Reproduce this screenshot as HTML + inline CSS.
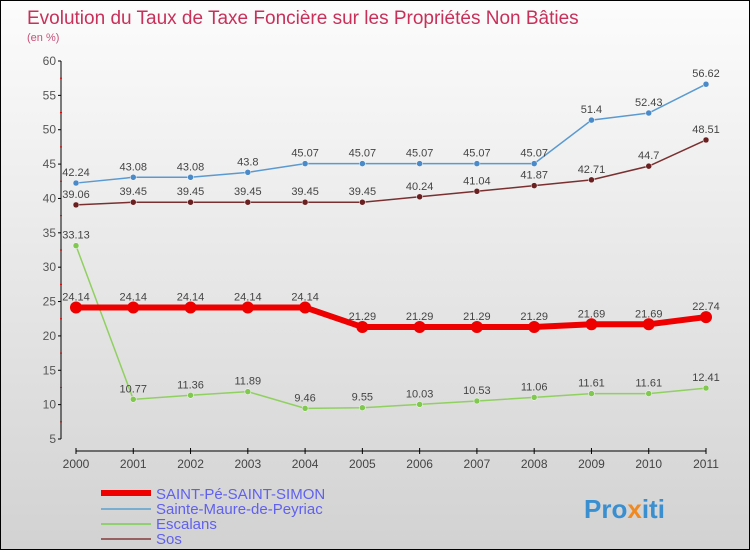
<!DOCTYPE html>
<html><head><meta charset="utf-8"><style>
body{margin:0}
#c{width:748px;height:548px;border:1px solid #000;background:linear-gradient(#fcfcfc,#d2d2d2);position:relative;overflow:hidden;font-family:"Liberation Sans",sans-serif}
</style></head><body>
<div id="c">
<svg id="s" width="748" height="548" xmlns="http://www.w3.org/2000/svg" style="position:absolute;left:0;top:0">
<text x="26" y="23" font-size="19" fill="#c8305a">Evolution du Taux de Taxe Foncière sur les Propriétés Non Bâties</text>
<text x="26" y="40" font-size="11" fill="#c8507a">(en %)</text>
<g id="axes"></g><g id="series"></g>
<g>
<line x1="100" y1="492" x2="150" y2="492" stroke="#e00" stroke-width="6"/>
<line x1="100" y1="508" x2="150" y2="508" stroke="#7aaed0" stroke-width="2"/>
<line x1="100" y1="523" x2="150" y2="523" stroke="#90d070" stroke-width="2"/>
<line x1="100" y1="538" x2="150" y2="538" stroke="#986060" stroke-width="2"/>
<text x="155" y="498" font-size="15" fill="#6060f0">SAINT-Pé-SAINT-SIMON</text>
<text x="155" y="513" font-size="15" fill="#6060f0">Sainte-Maure-de-Peyriac</text>
<text x="155" y="528" font-size="15" fill="#6060f0">Escalans</text>
<text x="155" y="543" font-size="15" fill="#6060f0">Sos</text>
</g>
<g font-size="26" font-weight="bold">
<text x="583" y="517" fill="#3a8fd0">Pro<tspan fill="#f08a20">x</tspan>iti</text>
</g>
</svg>
</div>
<script>
const years=[2000,2001,2002,2003,2004,2005,2006,2007,2008,2009,2010,2011];
const yTicks=[5,10,15,20,25,30,35,40,45,50,55,60];
const saintPe=[24.14,24.14,24.14,24.14,24.14,21.29,21.29,21.29,21.29,21.69,21.69,22.74];
const sainteMaure=[42.24,43.08,43.08,43.8,45.07,45.07,45.07,45.07,45.07,51.4,52.43,56.62];
const escalans=[33.13,10.77,11.36,11.89,9.46,9.55,10.03,10.53,11.06,11.61,11.61,12.41];
const sos=[39.06,39.45,39.45,39.45,39.45,39.45,40.24,41.04,41.87,42.71,44.7,48.51];
const NS="http://www.w3.org/2000/svg";
const X=i=>75+i*(630/11);
const Y=v=>438-(v-5)*(378/55);
function mk(tag,attrs,parent,text){const e=document.createElementNS(NS,tag);for(const k in attrs)e.setAttribute(k,attrs[k]);if(text!==undefined)e.textContent=text;parent.appendChild(e);return e;}
const ax=document.getElementById('axes');
let l=mk('line',{x1:60,y1:60,x2:60,y2:438,stroke:'#000'},ax);


l=mk('line',{x1:75,y1:450,x2:705,y2:450,stroke:'#000'},ax);


yTicks.forEach(v=>{
 mk('line',{x1:57,y1:Y(v),x2:60,y2:Y(v),stroke:'#000'},ax);
 if(v<60)mk('line',{x1:59,y1:Y(v+2.5),x2:61,y2:Y(v+2.5),stroke:'#e00'},ax);
 const t=mk('text',{x:55,y:Y(v)+4,'font-size':12,fill:'#555','text-anchor':'end'},ax,String(v));
 
 
});
years.forEach((yr,i)=>{
 mk('line',{x1:X(i),y1:447,x2:X(i),y2:453,stroke:'#000'},ax);
 const t=mk('text',{x:X(i),y:467,'font-size':12,fill:'#444','text-anchor':'middle'},ax,String(yr));
 
 
});
const sg=document.getElementById('series');
function series(vals,color,dot,w,r,name,lblColor){
 const g=mk('g',{},sg);
 
 
 mk('polyline',{points:vals.map((v,i)=>X(i)+','+Y(v)).join(' '),fill:'none',stroke:color,'stroke-width':w},g);
 vals.forEach((v,i)=>{
  const c=mk('circle',{cx:X(i),cy:Y(v),r:r,fill:dot,stroke:'#fff','stroke-width':r>4?0:0.5},g);
  
  
  const t=mk('text',{x:X(i),y:Y(v)-7,'font-size':11,fill:'#444','text-anchor':'middle'},g,String(v));
  
  
 });
}
series(sos,'#7a3030','#6a2020',1.5,3,'series-sos');
series(sainteMaure,'#5a9ad0','#4a8ac8',1.5,3,'series-sainte-maure');
series(escalans,'#90d060','#80c850',1.5,3,'series-escalans');
series(saintPe,'#ee0000','#ee0000',6,6,'series-saint-pe');
</script>
</body></html>
